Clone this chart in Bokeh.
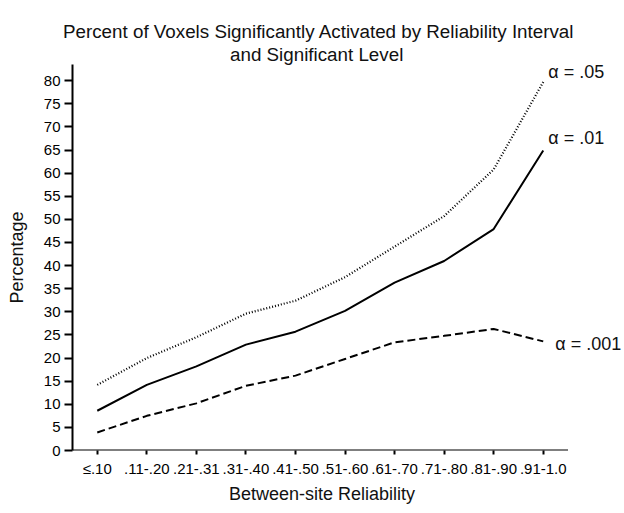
from bokeh.plotting import figure
from bokeh.models import FixedTicker, Title, Label, Range1d, LinearAxis
from bokeh.embed import file_html
from bokeh.resources import INLINE

categories = ["\u2264.10", ".11-.20", ".21-.31", ".31-.40", ".41-.50",
              ".51-.60", ".61-.70", ".71-.80", ".81-.90", ".91-1.0"]
alpha_05 = [14.2, 20.0, 24.5, 29.6, 32.4, 37.5, 44.1, 50.7, 60.8, 79.7]
alpha_01 = [8.6, 14.2, 18.2, 22.9, 25.7, 30.2, 36.3, 41.0, 47.9, 64.9]
alpha_001 = [3.9, 7.5, 10.2, 14.0, 16.2, 19.8, 23.4, 24.8, 26.3, 23.6]
y_ticks = list(range(0, 81, 5))

FONT = "Liberation Sans"
xs = list(range(len(categories)))
n = len(categories)

p = figure(width=624, height=505, output_backend="svg", toolbar_location=None,
           x_range=Range1d(-0.5, 10.64), y_range=Range1d(0, 83.5),
           min_border_left=72, min_border_right=0, min_border_top=64,
           min_border_bottom=54)
p.outline_line_color = None
p.grid.visible = False
p.background_fill_color = "white"
p.border_fill_color = "white"

# keep references to the real axes before adding anything else
xa = p.below[0]
ya = p.left[0]

# empty spacer between the frame and the title lines
spacer = LinearAxis(ticker=FixedTicker(ticks=[]), axis_line_color=None,
                    major_tick_line_color=None, minor_tick_line_color=None,
                    major_tick_out=17, major_tick_in=0, minor_tick_out=0,
                    major_label_standoff=0, axis_label=None)
p.add_layout(spacer, "above")

title_style = dict(align="left", text_font=FONT, text_font_size="18.8px",
                   text_font_style="normal", text_color="#111111", standoff=0)
p.title = Title(text="Percent of Voxels Significantly Activated by Reliability Interval",
                offset=-9.5, **title_style)
p.add_layout(Title(text="and Significant Level", offset=157.5, **title_style), "above")

# x axis label, placed under the category span
p.add_layout(Title(text="Between-site Reliability", align="left",
                   text_font=FONT, text_font_size="18px", text_font_style="normal",
                   text_color="#111111", standoff=4, offset=156.5), "below")

# x axis line only across the category span
p.segment(x0=[-0.5], y0=[0], x1=[n - 0.5], y1=[0], line_color="black", line_width=2)

p.line(xs, alpha_05, line_color="black", line_width=2.2, line_dash="1 2")
p.line(xs, alpha_01, line_color="black", line_width=2)
p.line(xs, alpha_001, line_color="black", line_width=2, line_dash="8 4")

labels = [("\u03b1 = .05", alpha_05[-1], 5, 10), ("\u03b1 = .01", alpha_01[-1], 5, 12),
          ("\u03b1 = .001", alpha_001[-1], 12, -3)]
for txt, yv, xo, yo in labels:
    p.add_layout(Label(x=xs[-1], y=yv, text=txt, x_offset=xo, y_offset=yo,
                       text_font=FONT, text_font_size="18px", text_color="#111111",
                       text_baseline="middle"))

xa.ticker = FixedTicker(ticks=xs)
xa.major_label_overrides = {i: c for i, c in enumerate(categories)}
ya.ticker = FixedTicker(ticks=y_ticks)
ya.axis_label = "Percentage"

for ax in (xa, ya):
    ax.axis_line_width = 2
    ax.axis_line_color = "black"
    ax.major_tick_line_width = 2
    ax.major_tick_line_color = "black"
    ax.major_tick_in = 0
    ax.minor_tick_line_color = None
    ax.major_label_text_font = FONT
    ax.major_label_text_font_size = "15px"
    ax.major_label_text_color = "black"
    ax.axis_label_text_font = FONT
    ax.axis_label_text_font_size = "18px"
    ax.axis_label_text_font_style = "normal"
    ax.axis_label_text_color = "#111111"
xa.axis_line_color = None
xa.major_tick_out = 4
ya.major_tick_out = 8
xa.major_label_standoff = 5
ya.major_label_standoff = 4
ya.axis_label_standoff = 14

open("out.html", "w").write(file_html(p, INLINE))
